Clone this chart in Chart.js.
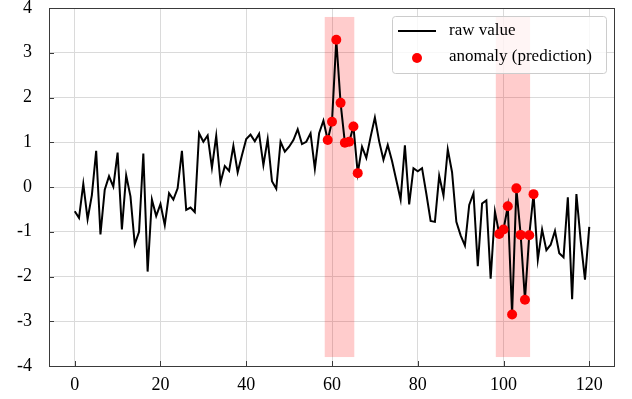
<!DOCTYPE html>
<html>
<head>
<meta charset="utf-8">
<script src="https://cdn.jsdelivr.net/npm/chart.js@4.4.0/dist/chart.umd.min.js"></script>
<style>
  html, body { margin: 0; padding: 0; background: #fff; }
</style>
</head>
<body>
<canvas id="myChart" width="632" height="399"></canvas>
<script>
// raw series, one value per step 0..120
const rawValue = [
  -0.54, -0.69, 0.07, -0.72, -0.18, 0.81, -1.06, -0.06, 0.24, 0.01,
  0.77, -0.95, 0.26, -0.21, -1.28, -1.0, 0.75, -1.89, -0.28, -0.65,
  -0.38, -0.85, -0.14, -0.28, -0.03, 0.81, -0.51, -0.46, -0.56, 1.20,
  1.01, 1.15, 0.43, 1.14, 0.10, 0.47, 0.36, 0.92, 0.33, 0.71,
  1.07, 1.17, 1.02, 1.19, 0.49, 1.07, 0.13, -0.04, 1.01, 0.79,
  0.90, 1.05, 1.29, 0.96, 1.01, 1.20, 0.41, 1.20, 1.48, 1.05,
  1.46, 3.29, 1.88, 0.99, 1.01, 1.35, 0.31, 0.90, 0.65, 1.12,
  1.55, 1.02, 0.61, 0.94, 0.58, 0.15, -0.28, 0.93, -0.39, 0.42,
  0.35, 0.42, -0.15, -0.76, -0.78, 0.25, -0.19, 0.84, 0.33, -0.78,
  -1.08, -1.31, -0.40, -0.14, -1.77, -0.37, -0.30, -2.05, -0.55, -1.05,
  -0.95, -0.43, -2.85, -0.03, -1.07, -2.52, -1.08, -0.16, -1.62, -0.95,
  -1.41, -1.29, -0.98, -1.48, -1.57, -0.23, -2.51, -0.16, -1.2, -2.07,
  -0.89
];
// steps flagged as anomalies
const anomalyIdx = [59, 60, 61, 62, 63, 64, 65, 66, 99, 100, 101, 102, 103, 104, 105, 106, 107];
// shaded anomaly windows (x from, x to)
const shadeRanges = [[58.3, 65.2], [98.2, 106.2]];
const shadeY = [-3.8, 3.8];
const xTicks = [0, 20, 40, 60, 80, 100, 120];
const yTicks = [-4, -3, -2, -1, 0, 1, 2, 3, 4];
const seriesNames = ['raw value', 'anomaly (prediction)'];

const serif = 'Liberation Serif';
const spineColor = '#3a3a3a';

const shadePlugin = {
  id: 'shade',
  beforeDatasetsDraw(chart) {
    const ctx = chart.ctx, xs = chart.scales.x, ys = chart.scales.y;
    ctx.save();
    ctx.fillStyle = 'rgba(255, 0, 0, 0.2)';
    shadeRanges.forEach(r => {
      const x0 = xs.getPixelForValue(r[0]), x1 = xs.getPixelForValue(r[1]);
      const y0 = ys.getPixelForValue(shadeY[1]), y1 = ys.getPixelForValue(shadeY[0]);
      ctx.fillRect(x0, y0, x1 - x0, y1 - y0);
    });
    ctx.restore();
  }
};

const framePlugin = {
  id: 'frame',
  afterDraw(chart) {
    const ctx = chart.ctx, a = chart.chartArea, xs = chart.scales.x, ys = chart.scales.y;
    ctx.save();
    ctx.strokeStyle = spineColor;
    ctx.lineWidth = 1;
    // inward ticks
    ctx.beginPath();
    yTicks.forEach(v => {
      const y = Math.round(ys.getPixelForValue(v)) + 0.5;
      ctx.moveTo(a.left, y); ctx.lineTo(a.left + 5, y);
    });
    xTicks.forEach(v => {
      const x = Math.round(xs.getPixelForValue(v)) + 0.5;
      ctx.moveTo(x, a.bottom); ctx.lineTo(x, a.bottom - 5);
    });
    ctx.stroke();
    ctx.strokeRect(a.left + 0.5, a.top + 0.5, a.right - a.left - 1, a.bottom - a.top);

    // legend box
    const bx = a.right - 223, by = a.top + 8, bw = 214, bh = 57;
    ctx.beginPath();
    ctx.roundRect(bx + 0.5, by + 0.5, bw, bh, 3);
    ctx.fillStyle = 'rgba(255, 255, 255, 0.8)';
    ctx.fill();
    ctx.strokeStyle = '#cccccc';
    ctx.stroke();

    ctx.strokeStyle = '#000';
    ctx.lineWidth = 2;
    ctx.beginPath();
    ctx.moveTo(bx + 6, by + 15); ctx.lineTo(bx + 44, by + 15);
    ctx.stroke();
    ctx.fillStyle = '#ff0000';
    ctx.beginPath();
    ctx.arc(bx + 25, by + 42, 5, 0, Math.PI * 2);
    ctx.fill();

    ctx.fillStyle = '#000';
    ctx.font = '17px "' + serif + '"';
    ctx.textBaseline = 'middle';
    ctx.textAlign = 'left';
    ctx.fillText(seriesNames[0], bx + 57, by + 15);
    ctx.fillText(seriesNames[1], bx + 57, by + 41);
    ctx.restore();
  }
};

const data = {
  datasets: [
    {
      type: 'scatter',
      label: seriesNames[1],
      data: anomalyIdx.map(i => ({ x: i, y: rawValue[i] })),
      backgroundColor: '#ff0000',
      borderWidth: 0,
      pointRadius: 5,
      order: 0
    },
    {
      type: 'line',
      label: seriesNames[0],
      data: rawValue.map((v, i) => ({ x: i, y: v })),
      borderColor: '#000',
      borderWidth: 2,
      pointRadius: 0,
      tension: 0,
      fill: false,
      order: 1
    }
  ]
};

const config = {
  data,
  options: {
    responsive: false,
    animation: false,
    devicePixelRatio: 1,
    layout: { padding: { top: 8, right: 17, left: 0, bottom: 0 } },
    plugins: { legend: { display: false }, tooltip: { enabled: false } },
    scales: {
      x: {
        type: 'linear',
        min: -6,
        max: 126,
        afterBuildTicks: s => { s.ticks = xTicks.map(v => ({ value: v })); },
        afterFit: s => { s.height = 33; s.paddingLeft = 0; s.paddingRight = 0; },
        grid: { color: '#dadada', lineWidth: 1, drawTicks: false },
        border: { display: false },
        ticks: { color: '#000', padding: 8, maxRotation: 0, font: { family: serif, size: 18 } }
      },
      y: {
        type: 'linear',
        min: -4,
        max: 4,
        afterBuildTicks: s => { s.ticks = yTicks.map(v => ({ value: v })); },
        afterFit: s => { s.width = 49; s.paddingTop = 0; s.paddingBottom = 0; },
        grid: { color: '#dadada', lineWidth: 1, drawTicks: false },
        border: { display: false },
        ticks: { color: '#000', padding: 17, font: { family: serif, size: 18 } }
      }
    }
  },
  plugins: [shadePlugin, framePlugin]
};

var myChart = new Chart(document.getElementById('myChart'), config);
</script>
</body>
</html>
